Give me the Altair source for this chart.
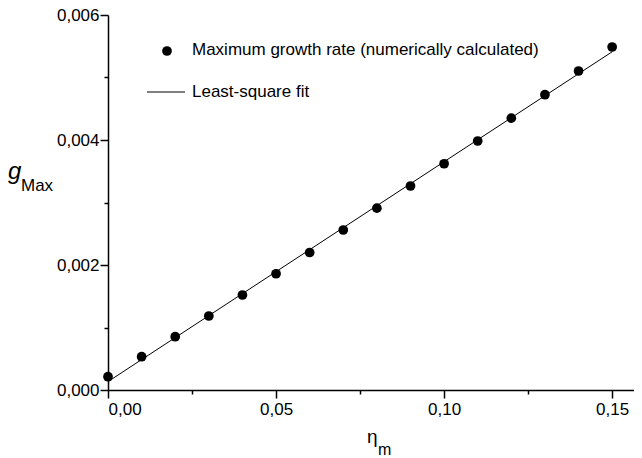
import altair as alt
import pandas as pd

# Data
eta_m = [0.00, 0.01, 0.02, 0.03, 0.04, 0.05, 0.06, 0.07,
         0.08, 0.09, 0.10, 0.11, 0.12, 0.13, 0.14, 0.15]
g_max = [0.000213, 0.000533, 0.000853, 0.001184, 0.00152, 0.00186, 0.00220, 0.00256,
         0.00291, 0.003264, 0.00362, 0.003984, 0.00435, 0.004725, 0.005104, 0.005488]

x_major = [0.0, 0.05, 0.10, 0.15]
x_minor = [0.025, 0.075, 0.125]
y_major = [0.0, 0.002, 0.004, 0.006]
y_minor = [0.001, 0.003, 0.005]

legend_points = "Maximum growth rate (numerically calculated)"
legend_fit = "Least-square fit"

df = pd.DataFrame({"x": eta_m, "y": g_max})

FONT = "Liberation Sans"
xscale = alt.Scale(domain=[0, 0.1565], nice=False, zero=False)
yscale = alt.Scale(domain=[0, 0.006], nice=False, zero=False)

base = alt.Chart(df)

points = base.mark_circle(size=95, color="black", opacity=1).encode(
    x=alt.X("x:Q", scale=xscale, axis=alt.Axis(
        values=x_major, orient="bottom", title=None, grid=False,
        labelExpr="replace(format(datum.value, '.2f'), '.', ',')",
        tickSize=8, labelPadding=3)),
    y=alt.Y("y:Q", scale=yscale, axis=alt.Axis(
        values=y_major, orient="left", title=None, grid=False,
        labelExpr="replace(format(datum.value, '.3f'), '.', ',')",
        tickSize=8, labelPadding=1)),
)

fit = base.transform_regression("x", "y").mark_line(color="black", strokeWidth=1).encode(
    x=alt.X("x:Q", scale=xscale, axis=None),
    y=alt.Y("y:Q", scale=yscale, axis=None),
)

minor = base.mark_point(opacity=0).encode(
    x=alt.X("x:Q", scale=xscale, axis=alt.Axis(
        values=x_minor, orient="bottom", title=None, grid=False, labels=False,
        domain=False, tickSize=4)),
    y=alt.Y("y:Q", scale=yscale, axis=alt.Axis(
        values=y_minor, orient="left", title=None, grid=False, labels=False,
        domain=False, tickSize=4)),
)

one = pd.DataFrame({"a": [0]})
leg_dot = alt.Chart(one).mark_circle(size=95, color="black", opacity=1).encode(
    x=alt.value(59), y=alt.value(36))
leg_text1 = alt.Chart(one).mark_text(align="left", baseline="middle", font=FONT,
                                     fontSize=17, color="black", text=legend_points).encode(
    x=alt.value(84), y=alt.value(35))
leg_line = alt.Chart(one).mark_rule(color="black", strokeWidth=1).encode(
    x=alt.value(39), x2=alt.value(77), y=alt.value(77))
leg_text2 = alt.Chart(one).mark_text(align="left", baseline="middle", font=FONT,
                                     fontSize=17, color="black", text=legend_fit).encode(
    x=alt.value(84), y=alt.value(77))

g_txt = alt.Chart(one).mark_text(align="left", baseline="alphabetic", font=FONT,
                                 fontSize=24, fontStyle="italic", color="black", text="g").encode(
    x=alt.value(-100), y=alt.value(164))
max_txt = alt.Chart(one).mark_text(align="left", baseline="alphabetic", font=FONT,
                                   fontSize=17, color="black", text="Max").encode(
    x=alt.value(-87), y=alt.value(176))
eta_txt = alt.Chart(one).mark_text(align="left", baseline="alphabetic", font=FONT,
                                   fontSize=19, color="black", text="η").encode(
    x=alt.value(259), y=alt.value(428))
m_txt = alt.Chart(one).mark_text(align="left", baseline="alphabetic", font=FONT,
                                 fontSize=16, color="black", text="m").encode(
    x=alt.value(270), y=alt.value(440))

chart = alt.layer(
    points, fit, minor, leg_dot, leg_text1, leg_line, leg_text2,
    g_txt, max_txt, eta_txt, m_txt
).resolve_axis(x="independent", y="independent").properties(
    width=526, height=375,
    autosize=alt.AutoSizeParams(type="none"),
    padding={"left": 100, "top": 7, "right": 0, "bottom": 68},
    background="white",
).configure_view(stroke=None).configure_axis(
    domainColor="black", domainWidth=1.5, tickColor="black", tickWidth=1.5,
    labelFont=FONT, labelFontSize=17, labelColor="black",
)

chart.save("out.html", embed_options={"renderer": "svg", "actions": False})
